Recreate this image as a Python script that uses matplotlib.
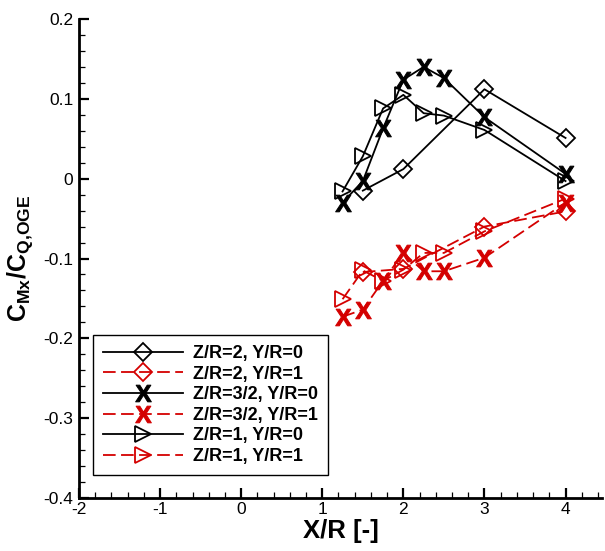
import numpy as np
import matplotlib
matplotlib.use("Agg")
import matplotlib.pyplot as plt
from matplotlib.ticker import MultipleLocator, FuncFormatter

plt.rcParams['font.family'] = ['Liberation Sans', 'DejaVu Sans']
plt.rcParams['mathtext.fontset'] = 'custom'
plt.rcParams['mathtext.rm'] = 'Liberation Sans'
plt.rcParams['mathtext.bf'] = 'Liberation Sans:bold'
plt.rcParams['axes.unicode_minus'] = False

# ── data
x_d0 = [1.5, 2.0, 3.0, 4.0]
y_d0 = [-0.015, 0.012, 0.112, 0.051]
x_d1 = [1.5, 2.0, 3.0, 4.0]
y_d1 = [-0.117, -0.113, -0.060, -0.041]

x_x0 = [1.25, 1.5, 1.75, 2.0, 2.25, 2.5, 3.0, 4.0]
y_x0 = [-0.030, -0.003, 0.063, 0.124, 0.140, 0.126, 0.077, 0.006]
x_x1 = [1.25, 1.5, 1.75, 2.0, 2.25, 2.5, 3.0, 4.0]
y_x1 = [-0.173, -0.164, -0.128, -0.093, -0.116, -0.116, -0.099, -0.030]

x_t0 = [1.25, 1.5, 1.75, 2.0, 2.25, 2.5, 3.0, 4.0]
y_t0 = [-0.016, 0.028, 0.088, 0.105, 0.082, 0.079, 0.061, -0.003]
x_t1 = [1.25, 1.5, 1.75, 2.0, 2.25, 2.5, 3.0, 4.0]
y_t1 = [-0.151, -0.115, -0.128, -0.114, -0.093, -0.093, -0.066, -0.025]

labels = ["Z/R=2, Y/R=0", "Z/R=2, Y/R=1", "Z/R=3/2, Y/R=0",
          "Z/R=3/2, Y/R=1", "Z/R=1, Y/R=0", "Z/R=1, Y/R=1"]

RED = "#d40000"
dash = (7, 3)

fig = plt.figure(figsize=(6.05, 5.51), dpi=100)
ax = fig.add_axes([0.1306, 0.0962, 0.8645, 0.8693])

xmark = r'$\mathbf{X}$'
common = dict(linewidth=1.3, markerfacecolor='none', markeredgewidth=1.3)

ax.plot(x_d0, y_d0, color='black', marker='D', markersize=9.5,
        label=labels[0], **common)
ax.plot(x_d1, y_d1, color=RED, marker='D', markersize=9.5, dashes=dash,
        label=labels[1], **common)
ax.plot(x_x0, y_x0, color='black', marker=xmark, markersize=12,
        linewidth=1.3, markeredgewidth=0.7, label=labels[2])
ax.plot(x_x1, y_x1, color=RED, marker=xmark, markersize=12, dashes=dash,
        linewidth=1.3, markeredgewidth=0.7, label=labels[3])
ax.plot(x_t0, y_t0, color='black', marker='>', markersize=11,
        label=labels[4], **common)
ax.plot(x_t1, y_t1, color=RED, marker='>', markersize=11, dashes=dash,
        label=labels[5], **common)

ax.set_xlim(-2, 4.45)
ax.set_ylim(-0.4, 0.2)
ax.xaxis.set_major_locator(MultipleLocator(1))
ax.xaxis.set_minor_locator(MultipleLocator(0.2))
ax.yaxis.set_major_locator(MultipleLocator(0.1))
ax.yaxis.set_minor_locator(MultipleLocator(0.02))
fmt = FuncFormatter(lambda v, p: "0" if abs(v) < 1e-9 else f"{v:g}")
ax.xaxis.set_major_formatter(fmt)
ax.yaxis.set_major_formatter(fmt)

for s in ['top', 'right']:
    ax.spines[s].set_visible(False)
for s in ['left', 'bottom']:
    ax.spines[s].set_linewidth(2.0)

ax.tick_params(which='major', direction='in', length=7, width=1.6,
               labelsize=12.5, pad=4)
ax.tick_params(which='minor', direction='in', length=4, width=0.9)
ax.tick_params(axis='x', which='major', pad=3)

ax.set_xlabel("X/R [-]", fontsize=18.5, fontweight='bold', labelpad=1)
ax.set_ylabel(r'$\mathbf{C_{Mx}/C_{Q{,}OGE}}$', fontsize=18, labelpad=6)

leg = ax.legend(loc='lower left', bbox_to_anchor=(0.027, 0.048),
                borderaxespad=0, fancybox=False, framealpha=1,
                edgecolor='black', handlelength=4.4, labelspacing=0.2,
                prop={'weight': 'bold', 'size': 13}, borderpad=0.55,
                handletextpad=0.6)
leg.get_frame().set_linewidth(1.0)

fig.savefig("out.png", dpi=100)
